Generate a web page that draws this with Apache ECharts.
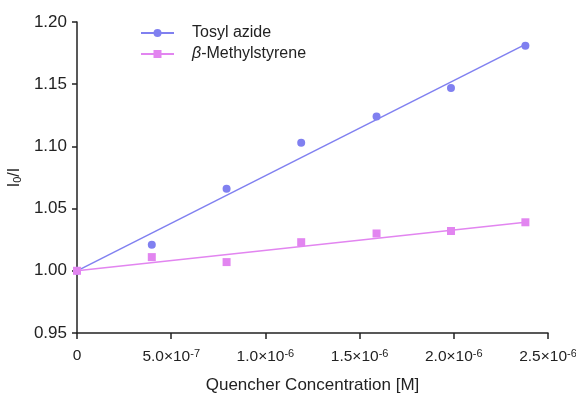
<!DOCTYPE html>
<html><head><meta charset="utf-8">
<script src="https://cdn.jsdelivr.net/npm/echarts@6/dist/echarts.min.js"></script>
<style>html,body{margin:0;padding:0;background:#fff}#c{width:576px;height:393px}</style>
</head><body><div id="c"></div>
<script>
const concentrations = [0, 0.397e-6, 0.794e-6, 1.19e-6, 1.59e-6, 1.985e-6, 2.38e-6];
const tosylAzide = [1.000, 1.021, 1.066, 1.103, 1.124, 1.147, 1.181];
const methylstyrene = [1.000, 1.011, 1.007, 1.023, 1.030, 1.032, 1.039];
const fitX = [0, 2.38e-6];
const tosylFit = [1.000, 1.182];
const methylFit = [1.000, 1.039];

const blue = '#8080f0', pink = '#e285f0';
const font = 'Liberation Sans, Arial, sans-serif';
const chart = echarts.init(document.getElementById('c'));
const pairs = (xs, ys) => xs.map((x, i) => [x, ys[i]]);
function fmtX(v){
  if (Math.abs(v) < 1e-12) return '{n|0}';
  const e = Math.floor(Math.log10(v) + 1e-9);
  const m = (v / Math.pow(10, e)).toFixed(1);
  const last = Math.abs(v - 2.5e-6) < 1e-12;
  return last ? '{nl|' + m + '×10}{sl|' + e + '}' : '{n|' + m + '×10}{s|' + e + '}';
}
chart.setOption({
  animation: false,
  textStyle: {fontFamily: font},
  grid: {left: 77, right: 28, top: 22, bottom: 60, containLabel: false, outerBoundsMode: 'none'},
  legend: {
    left: 135, top: 20, orient: 'vertical', itemGap: 5, itemWidth: 33, itemHeight: 10,
    textStyle: {fontSize: 16, color: '#222', fontFamily: font,
      rich: {i: {fontStyle: 'italic', fontSize: 16, fontFamily: font, color:'#222', padding:[0,0,0,13]},
             t: {fontSize: 16, fontFamily: font, color:'#222'},
             p: {fontSize: 16, fontFamily: font, color:'#222', padding:[0,0,0,13]}}},
    formatter: n => n === 'β-Methylstyrene' ? '{i|β}{t|-Methylstyrene}' : '{p|' + n + '}',
    data: ['Tosyl azide', 'β-Methylstyrene']
  },
  xAxis: {
    type: 'value', min: 0, max: 2.5e-6, interval: 5e-7,
    name: 'Quencher Concentration [M]', nameLocation: 'middle', nameGap: 44,
    nameTextStyle: {fontSize: 17, color: '#222', fontFamily: font},
    axisLine: {lineStyle: {color: '#222', width: 1.5}},
    axisTick: {show: true, length: 6, lineStyle: {color: '#222', width: 1.5}},
    splitLine: {show: false},
    axisLabel: {margin: 15, color: '#222', fontSize: 15.5, formatter: fmtX,
      rich: {n: {fontSize: 15.5, color: '#222', fontFamily: font},
             s: {fontSize: 11, color: '#222', fontFamily: font, verticalAlign: 'top', padding: [0,0,7,0]},
             nl: {fontSize: 15.5, color: '#222', fontFamily: font, padding: [0,0,6,0]},
             sl: {fontSize: 11, color: '#222', fontFamily: font, verticalAlign: 'top', padding: [0,0,13,0]}}}
  },
  yAxis: {
    type: 'value', min: 0.95, max: 1.20, interval: 0.05,
    name: '{a|I}{b|0}{a|/I}', nameLocation: 'middle', nameGap: 51, nameRotate: 90,
    nameTextStyle: {rich: {a: {fontSize: 16, color: '#222', fontFamily: font}, b: {fontSize: 11, color: '#222', fontFamily: font, verticalAlign: 'bottom', padding:[6,0,0,0]}}},
    axisLine: {show: true, lineStyle: {color: '#222', width: 1.5}},
    axisTick: {show: true, length: 5, lineStyle: {color: '#222', width: 1.5}},
    splitLine: {show: false},
    axisLabel: {margin: 10, color: '#222', fontSize: 17, formatter: v => v.toFixed(2)}
  },
  series: [
    {name: 'Tosyl azide', type: 'line', data: pairs(fitX, tosylFit), symbol: 'circle', symbolSize: 8, showSymbol: false,
     lineStyle: {color: blue, width: 1.5}, itemStyle: {color: blue}, z: 2},
    {name: 'β-Methylstyrene', type: 'line', data: pairs(fitX, methylFit), symbol: 'rect', symbolSize: 8, showSymbol: false,
     lineStyle: {color: pink, width: 1.5}, itemStyle: {color: pink}, z: 2},
    {name: 'tosylPts', type: 'scatter', data: pairs(concentrations, tosylAzide), symbol: 'circle', symbolSize: 8,
     itemStyle: {color: blue, opacity: 1}, z: 3},
    {name: 'methylPts', type: 'scatter', data: pairs(concentrations, methylstyrene), symbol: 'rect', symbolSize: 8,
     itemStyle: {color: pink, opacity: 1}, z: 3}
  ]
});
</script></body></html>
